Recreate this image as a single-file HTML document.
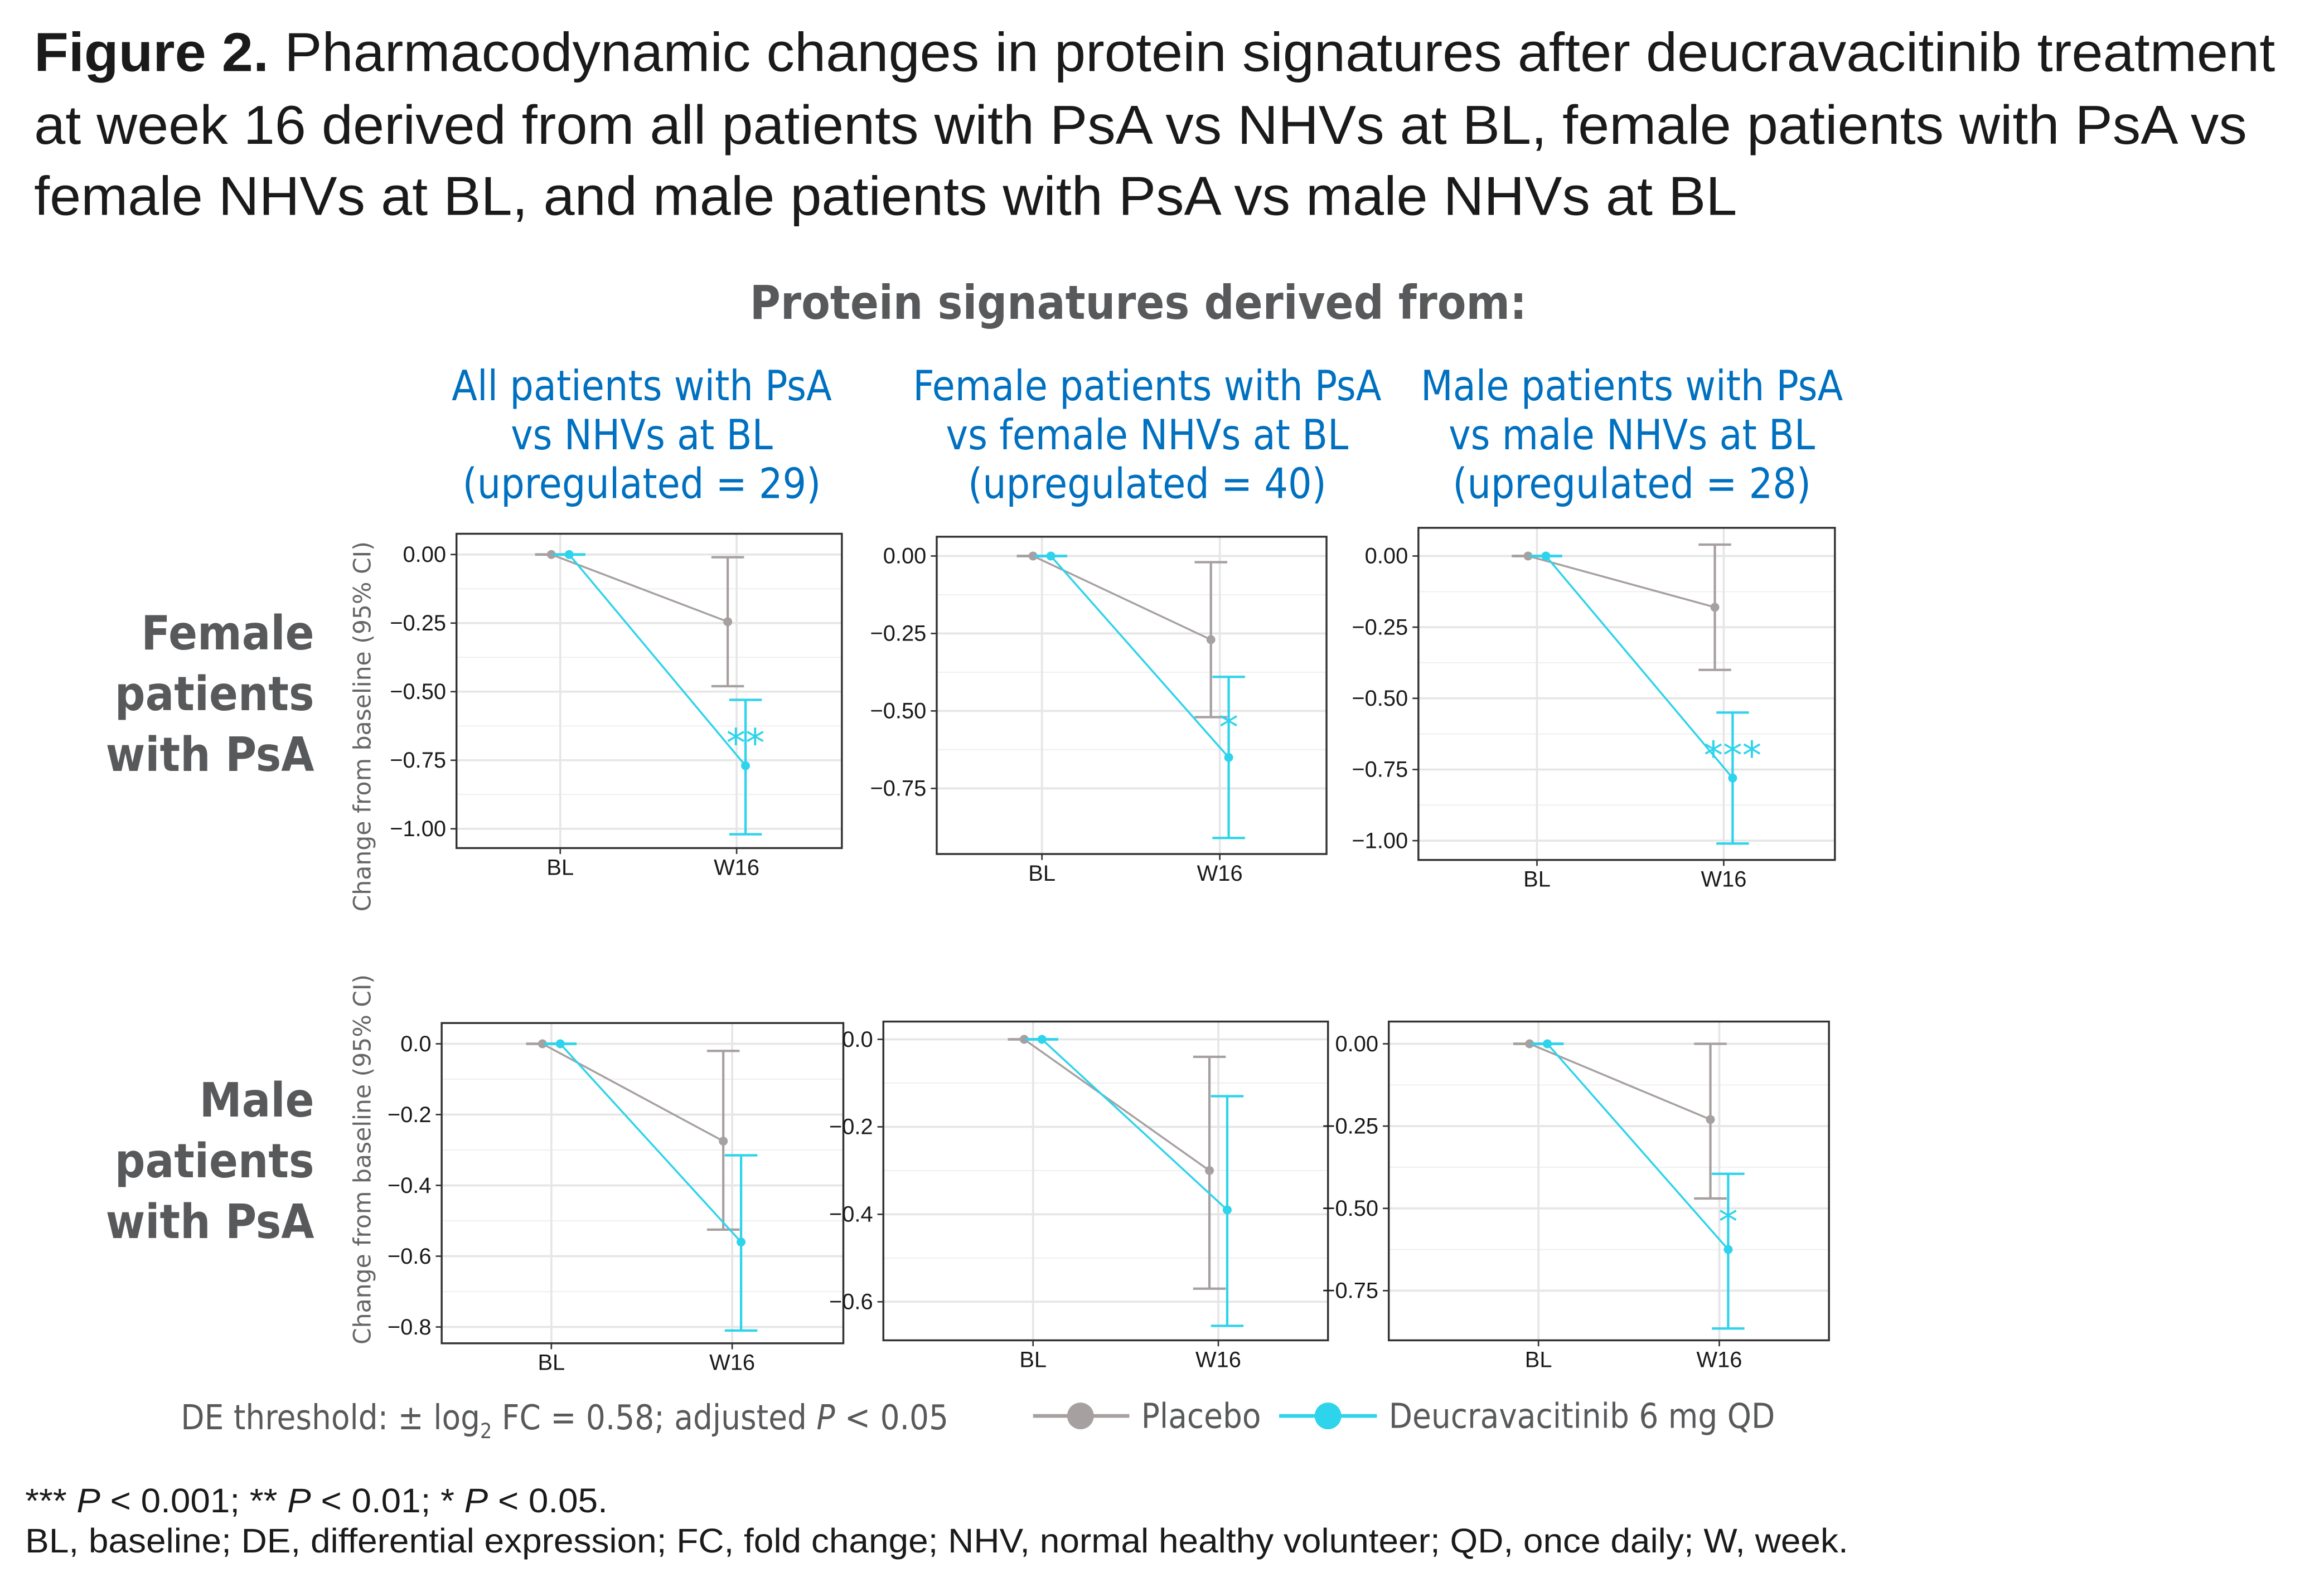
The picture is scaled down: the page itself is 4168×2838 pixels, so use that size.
<!DOCTYPE html>
<html><head><meta charset="utf-8">
<style>
html,body{margin:0;padding:0;background:#fff;}
svg{display:block;}
</style></head>
<body>
<svg id="fig" width="4168" height="2838" viewBox="0 0 1568 1067" preserveAspectRatio="none" xmlns="http://www.w3.org/2000/svg">
<g font-family="Liberation Sans, sans-serif" fill="#1a1a1a" font-size="37">
<text x="23" y="48" textLength="1512" lengthAdjust="spacingAndGlyphs"><tspan font-weight="bold">Figure 2.</tspan> Pharmacodynamic changes in protein signatures after deucravacitinib treatment</text>
<text x="23" y="97" textLength="1493" lengthAdjust="spacingAndGlyphs">at week 16 derived from all patients with PsA vs NHVs at BL, female patients with PsA vs</text>
<text x="23" y="145" textLength="1149" lengthAdjust="spacingAndGlyphs">female NHVs at BL, and male patients with PsA vs male NHVs at BL</text>
</g>
<text x="768" y="215" text-anchor="middle" font-family="DejaVu Sans Condensed, DejaVu Sans, sans-serif" font-weight="bold" font-size="31.5" fill="#58595b">Protein signatures derived from:</text>
<g font-family="DejaVu Sans Condensed, DejaVu Sans, sans-serif" font-size="28" fill="#0070c0" text-anchor="middle">
<text x="433" y="270"><tspan x="433">All patients with PsA</tspan><tspan x="433" dy="33">vs NHVs at BL</tspan><tspan x="433" dy="33">(upregulated = 29)</tspan></text>
<text x="774" y="270"><tspan x="774">Female patients with PsA</tspan><tspan x="774" dy="33">vs female NHVs at BL</tspan><tspan x="774" dy="33">(upregulated = 40)</tspan></text>
<text x="1101" y="270"><tspan x="1101">Male patients with PsA</tspan><tspan x="1101" dy="33">vs male NHVs at BL</tspan><tspan x="1101" dy="33">(upregulated = 28)</tspan></text>
</g>
<g font-family="DejaVu Sans Condensed, DejaVu Sans, sans-serif" font-size="32" font-weight="bold" fill="#58595b" text-anchor="end">
<text y="438"><tspan x="212">Female</tspan><tspan x="212" dy="41">patients</tspan><tspan x="212" dy="41">with PsA</tspan></text>
<text y="753"><tspan x="212">Male</tspan><tspan x="212" dy="41">patients</tspan><tspan x="212" dy="41">with PsA</tspan></text>
</g>
<g font-family="DejaVu Sans, sans-serif" font-size="16" fill="#666">
<text transform="translate(250,490) rotate(-90)" text-anchor="middle">Change from baseline (95% CI)</text>
<text transform="translate(250,782) rotate(-90)" text-anchor="middle">Change from baseline (95% CI)</text>
</g>
<g id="panels"></g>
<g font-family="DejaVu Sans Condensed, DejaVu Sans, sans-serif" font-size="23" fill="#58595b">
<text x="122" y="964">DE threshold: ± log<tspan font-size="14" dy="6">2</tspan><tspan dy="-6"> FC = 0.58; adjusted </tspan><tspan font-style="italic">P</tspan> &lt; 0.05</text>
<line x1="697" y1="955" x2="762" y2="955" stroke="#a7a0a0" stroke-width="2.5"/>
<circle cx="729" cy="955" r="9" fill="#a7a0a0"/>
<text x="770" y="963">Placebo</text>
<line x1="863" y1="955" x2="929" y2="955" stroke="#2ed3ec" stroke-width="2.5"/>
<circle cx="896" cy="955" r="9" fill="#2ed3ec"/>
<text x="937" y="963">Deucravacitinib 6 mg QD</text>
</g>
<g font-family="Liberation Sans, sans-serif" font-size="23" fill="#1a1a1a">
<text x="17" y="1020" textLength="393" lengthAdjust="spacingAndGlyphs">*** <tspan font-style="italic">P</tspan> &lt; 0.001; ** <tspan font-style="italic">P</tspan> &lt; 0.01; * <tspan font-style="italic">P</tspan> &lt; 0.05.</text>
<text x="17" y="1047" textLength="1230" lengthAdjust="spacingAndGlyphs">BL, baseline; DE, differential expression; FC, fold change; NHV, normal healthy volunteer; QD, once daily; W, week.</text>
</g>
</svg>
<script>
// Data (per panel: P1 all/female, P2 female/female, P3 male/female, P4 all/male, P5 female/male, P6 male/male)
const categories = ["BL", "W16"];
const placeboW16 = [-0.245, -0.27, -0.18, -0.275, -0.30, -0.23];
const placeboLo  = [-0.48, -0.52, -0.40, -0.525, -0.57, -0.47];
const placeboHi  = [-0.01, -0.02, 0.04, -0.02, -0.04, 0.00];
const deucW16 = [-0.77, -0.65, -0.78, -0.56, -0.39, -0.625];
const deucLo  = [-1.02, -0.91, -1.01, -0.81, -0.655, -0.865];
const deucHi  = [-0.53, -0.39, -0.55, -0.315, -0.13, -0.395];
const sigLabels = ["**", "*", "***", "", "", "*"];
const tickVals = [
  [0, -0.25, -0.5, -0.75, -1.0],
  [0, -0.25, -0.5, -0.75],
  [0, -0.25, -0.5, -0.75, -1.0],
  [0, -0.2, -0.4, -0.6, -0.8],
  [0, -0.2, -0.4, -0.6],
  [0, -0.25, -0.5, -0.75]
];
const tickLabels = [
  ["0.00","-0.25","-0.50","-0.75","-1.00"],
  ["0.00","-0.25","-0.50","-0.75"],
  ["0.00","-0.25","-0.50","-0.75","-1.00"],
  ["0.0","-0.2","-0.4","-0.6","-0.8"],
  ["0.0","-0.2","-0.4","-0.6"],
  ["0.00","-0.25","-0.50","-0.75"]
];
// Layout (pixel geometry, not data)
const layout = [
  {x0:308,x1:568,y0:360,y1:572,zero:374,unit:185,bl:378,w:497},
  {x0:632,x1:895,y0:362,y1:576,zero:375,unit:209,bl:703,w:823},
  {x0:957,x1:1238,y0:356,y1:580,zero:375,unit:192,bl:1037,w:1163},
  {x0:298,x1:569,y0:690,y1:906,zero:704,unit:238.75,bl:372,w:494},
  {x0:596,x1:896,y0:689,y1:904,zero:701,unit:295,bl:697,w:822},
  {x0:937,x1:1234,y0:689,y1:904,zero:704,unit:222,bl:1038,w:1160}
];
const NS="http://www.w3.org/2000/svg";
const root=document.getElementById('panels');
function mk(tag,attrs,parent){const e=document.createElementNS(NS,tag);for(const k in attrs)e.setAttribute(k,attrs[k]);parent.appendChild(e);return e;}
const GRAY="#a7a0a0", CYAN="#2ed3ec", DODGE=6;
layout.forEach((L,i)=>{
  const g=mk('g',{},root);
  
  
  const y=v=>L.zero-v*L.unit;
  const xc=c=>c===0?L.bl:L.w;
  for(let k=0;k<tickVals[i].length-1;k++){
    const mv=(tickVals[i][k]+tickVals[i][k+1])/2;
    mk('line',{x1:L.x0,x2:L.x1,y1:y(mv),y2:y(mv),stroke:'#f0f0f0','stroke-width':0.8},g);
  }
  tickVals[i].forEach((v,k)=>{
    mk('line',{x1:L.x0,x2:L.x1,y1:y(v),y2:y(v),stroke:'#e6e6e6','stroke-width':1.4},g);
    mk('line',{x1:L.x0-4,x2:L.x0,y1:y(v),y2:y(v),stroke:'#333','stroke-width':1},g);
    const t=mk('text',{x:L.x0-7,y:y(v)+5,'text-anchor':'end','font-family':'Liberation Sans, sans-serif','font-size':15,fill:'#1a1a1a'},g);
    t.textContent=tickLabels[i][k].replace('-','\u2212');
    
    
  });
  categories.forEach((c,k)=>{
    const x=xc(k);
    mk('line',{x1:x,x2:x,y1:L.y0,y2:L.y1,stroke:'#e6e6e6','stroke-width':1.4},g);
    mk('line',{x1:x,x2:x,y1:L.y1,y2:L.y1+4,stroke:'#333','stroke-width':1},g);
    const t=mk('text',{x:x,y:L.y1+18,'text-anchor':'middle','font-family':'Liberation Sans, sans-serif','font-size':15,fill:'#1a1a1a'},g);
    t.textContent=c;
    
    
  });
  const box=mk('rect',{x:L.x0,y:L.y0,width:L.x1-L.x0,height:L.y1-L.y0,fill:'none',stroke:'#333','stroke-width':1.3},g);
  
  
  const series=[
    {name:'placebo',col:GRAY,d:-DODGE,w16:placeboW16[i],lo:placeboLo[i],hi:placeboHi[i]},
    {name:'deucravacitinib',col:CYAN,d:DODGE,w16:deucW16[i],lo:deucLo[i],hi:deucHi[i]}
  ];
  series.forEach(s=>{
    const bx=L.bl+s.d, wx=L.w+s.d;
    mk('line',{x1:bx-11,x2:bx+11,y1:y(0),y2:y(0),stroke:s.col,'stroke-width':1.8},g);
    const ln=mk('line',{x1:bx,y1:y(0),x2:wx,y2:y(s.w16),stroke:s.col,'stroke-width':1.3},g);
    
    
    const eb=mk('path',{d:`M${wx},${y(s.hi)}V${y(s.lo)}M${wx-11},${y(s.hi)}H${wx+11}M${wx-11},${y(s.lo)}H${wx+11}`,stroke:s.col,'stroke-width':1.6,fill:'none'},g);
    
    
    const p0=mk('circle',{cx:bx,cy:y(0),r:3,fill:s.col},g);
    
    
    const p1=mk('circle',{cx:wx,cy:y(s.w16),r:3,fill:s.col},g);
    
    
  });
  if(sigLabels[i]){
    const sv=(deucW16[i]+deucHi[i])/2;
    const t=mk('text',{x:L.w+DODGE,y:y(sv)+16,'text-anchor':'middle','font-family':'DejaVu Sans, sans-serif','font-size':26,fill:CYAN},g);
    t.textContent=sigLabels[i];
    
    
  }
});
</script>
</body></html>
